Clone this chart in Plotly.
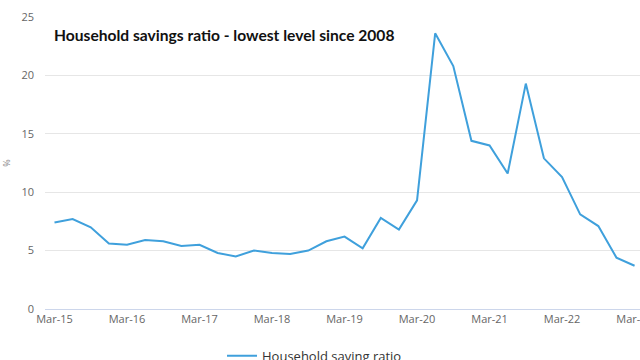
import plotly.graph_objects as go

quarters = [
    "Mar-15", "Jun-15", "Sep-15", "Dec-15",
    "Mar-16", "Jun-16", "Sep-16", "Dec-16",
    "Mar-17", "Jun-17", "Sep-17", "Dec-17",
    "Mar-18", "Jun-18", "Sep-18", "Dec-18",
    "Mar-19", "Jun-19", "Sep-19", "Dec-19",
    "Mar-20", "Jun-20", "Sep-20", "Dec-20",
    "Mar-21", "Jun-21", "Sep-21", "Dec-21",
    "Mar-22", "Jun-22", "Sep-22", "Dec-22",
    "Mar-23",
]
saving_ratio = [
    7.4, 7.7, 7.0, 5.6,
    5.5, 5.9, 5.8, 5.4,
    5.5, 4.8, 4.5, 5.0,
    4.8, 4.7, 5.0, 5.8,
    6.2, 5.2, 7.8, 6.8,
    9.3, 23.6, 20.8, 14.4,
    14.0, 11.6, 19.3, 12.9,
    11.3, 8.1, 7.1, 4.4,
    3.7,
]
tick_labels = ["Mar-15", "Mar-16", "Mar-17", "Mar-18", "Mar-19",
               "Mar-20", "Mar-21", "Mar-22", "Mar-23"]
y_ticks = [0, 5, 10, 15, 20, 25]

title_text = "Household savings ratio - lowest level since 2008"
series_name = "Household saving ratio"

fig = go.Figure()
fig.add_trace(go.Scatter(
    x=quarters, y=saving_ratio, mode="lines", name=series_name,
    line=dict(color="#3fa0dc", width=2),
))

fig.update_layout(
    width=640, height=360,
    margin=dict(l=45, r=0, t=17, b=51, autoexpand=False),
    paper_bgcolor="white", plot_bgcolor="white",
    font=dict(family="Open Sans", color="#666666", size=11),
    showlegend=True,
    legend=dict(
        orientation="h", x=0.2975, xanchor="left",
        yref="container", y=0.012, yanchor="middle",
        font=dict(family="Open Sans", size=13, color="#333333"),
        itemwidth=30,
    ),
    annotations=[dict(
        text="<b>" + title_text + "</b>",
        xref="paper", yref="paper", x=0.012, y=0.938,
        xanchor="left", yanchor="middle", showarrow=False,
        font=dict(family="Lato", size=15.6, color="#111111"),
    )],
)
fig.update_xaxes(
    type="category", range=[-0.524, 32.30], automargin=False,
    tickmode="array", tickvals=tick_labels, ticktext=tick_labels,
    showgrid=False, showline=True, linecolor="#ccd6eb", linewidth=1,
    ticks="", tickfont=dict(size=11, color="#666666"),
)
fig.update_yaxes(
    range=[0, 25], tickvals=y_ticks, automargin=False,
    showgrid=True, gridcolor="#e6e6e6", gridwidth=1,
    zeroline=False, showline=False, ticks="",
    ticklabelstandoff=10,
    tickfont=dict(size=11, color="#666666"),
    title=dict(text="%", font=dict(size=9, color="#888888"), standoff=14),
)

fig.write_html("out.html")
